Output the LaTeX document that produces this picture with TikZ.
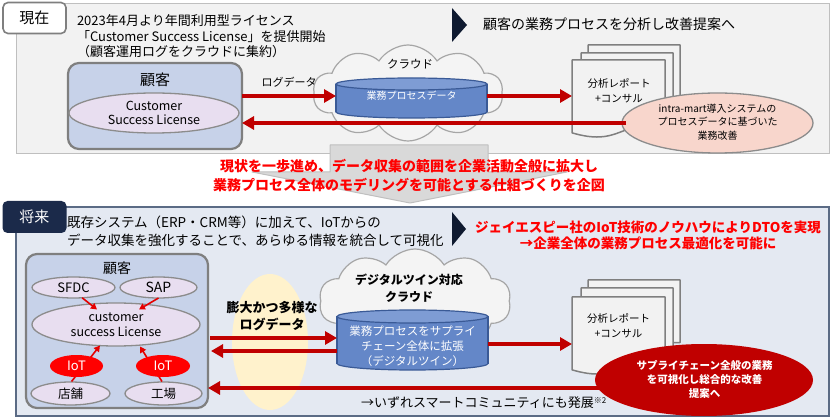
\documentclass[tikz,border=0pt]{standalone}
\usepackage{fontspec}
\setmainfont{Noto Sans CJK JP}
\usetikzlibrary{shapes.symbols,shapes.geometric,arrows.meta,calc}
\definecolor{pnlA}{HTML}{F2F2F2}
\definecolor{pnlAline}{HTML}{BFBFBF}
\definecolor{pnlB}{HTML}{E4E9F2}
\definecolor{pnlBline}{HTML}{5B6B85}
\definecolor{navy}{HTML}{1B2A4A}
\definecolor{tri}{HTML}{0F1A30}
\definecolor{boxblue}{HTML}{C7D2E9}
\definecolor{boxline}{HTML}{7F7F7F}
\definecolor{lav}{HTML}{E8DEF0}
\definecolor{ellline}{HTML}{8C8C8C}
\definecolor{darkred}{HTML}{C00000}
\definecolor{brightred}{HTML}{FF0000}
\definecolor{cylfill}{HTML}{6487C8}
\definecolor{cyltop}{HTML}{7E9CD4}
\definecolor{cylline}{HTML}{3A5A96}
\definecolor{pinkell}{HTML}{F8D6CC}
\definecolor{yell}{HTML}{FFF2CC}
\definecolor{cloudfill}{HTML}{F4F4F4}
\definecolor{cloudline}{HTML}{A6A6A6}
\definecolor{docline}{HTML}{7F7F7F}
\definecolor{docfill}{HTML}{F2F2F2}
\definecolor{grayarrow}{HTML}{D9D9D9}
\definecolor{grayarrowline}{HTML}{BFBFBF}
\newcommand\myfs[2]{\fontsize{#1pt}{#2pt}\selectfont}
% cylinder: cx, rx, ytop-center, ybottom-center, ry
\newcommand\mycyl[5]{%
  \filldraw[fill=cylfill,draw=cylline,line width=1.2pt] (#1,#4) ellipse [x radius=#2, y radius=#5];
  \fill[cylfill] (#1-#2,#3) rectangle (#1+#2,#4);
  \draw[cylline,line width=1.2pt] (#1-#2,#3) -- (#1-#2,#4) (#1+#2,#3) -- (#1+#2,#4);
  \filldraw[fill=cyltop,draw=cylline,line width=1.2pt] (#1,#3) ellipse [x radius=#2, y radius=#5];}
% document page: x0, ytop, w, H
\newcommand\mydoc[4]{%
  \filldraw[fill=docfill,draw=docline,line width=1.5pt,line join=round]
   (#1,#2+0.934*#4) -- (#1,#2) -- (#1+#3,#2) -- (#1+#3,#2+0.802*#4)
   .. controls (#1+0.5*#3,#2+0.802*#4) and (#1+0.5*#3,#2+1.1075*#4) .. (#1,#2+0.934*#4) -- cycle;}
\begin{document}
\begin{tikzpicture}[x=1pt,y=-1pt,
  every node/.style={inner sep=0pt,outer sep=0pt},
  panelA/.style={draw=pnlAline,fill=pnlA,line width=1pt},
  panelB/.style={draw=pnlBline,fill=pnlB,line width=1.2pt},
  cbox/.style={draw=boxline,fill=boxblue,line width=2.2pt,rounded corners=11pt},
  ell/.style={ellipse,draw=ellline,fill=lav,line width=1.3pt,align=center},
  redarr/.style={draw=darkred,line width=4.6pt,-{Triangle[length=12pt,width=13pt]}},
  smallarr/.style={draw=brightred!90!black,line width=1.6pt,-{Triangle[length=6pt,width=6.5pt]}},
  cloudst/.style={cloud,cloud puffs=10,cloud puff arc=115,aspect=2,draw=cloudline,fill=cloudfill,line width=1.2pt},
  ]
\useasboundingbox (0,0) rectangle (840,419);
% ---------------- top panel ----------------
\node[panelA,anchor=north west,minimum width=813pt,minimum height=150pt] (p1) at (16,4) {};
\node[draw=boxline,fill=white,line width=1.6pt,rounded corners=5pt,minimum width=63pt,minimum height=31pt,font=\myfs{15}{15}] (t1) at (34.5,18) {現在};
\node[anchor=west,align=left,font=\myfs{13}{15.5}] (intro) at (77,36.5) {2023年4月より年間利用型ライセンス\\「Customer Success License」を提供開始\\（顧客運用ログをクラウドに集約）};
\fill[tri] (452,8) -- (467,25) -- (452,42) -- cycle;
\node[anchor=west,font=\myfs{14}{14}] (goal1) at (483,24) {顧客の業務プロセスを分析し改善提案へ};
\node[cbox,anchor=north west,minimum width=174pt,minimum height=86pt] (k1) at (68,63) {};
\node[font=\myfs{15}{15}] (k1lab) at (155,80) {顧客};
\node[ell,minimum width=170pt,minimum height=40pt,font=\myfs{12.5}{14.5}] (csl1) at (154,113) {Customer\\Success License};
\node[cloudst,minimum width=190pt,minimum height=96pt] (cl1) at (408,93) {};
\node[font=\myfs{11.5}{11.5}] (cl1lab) at (410,64) {クラウド};
\mycyl{411.5}{75.5}{84}{112}{6}
\node[minimum width=151pt,minimum height=30pt,text=white,font=\myfs{10}{10}] (db1) at (411.5,96) {\raisebox{-4pt}{業務プロセスデータ}};
\mydoc{588}{45}{92}{78}
\mydoc{581}{53}{92}{78}
\mydoc{572}{60}{93}{78}
\node[minimum width=93pt,minimum height=72pt] (doc1) at (618.5,96) {};
\node[align=center,font=\myfs{10.5}{15}] (doc1t) at (619,90.5) {分析レポート\\+コンサル};
\node[font=\myfs{11}{11}] (loglab) at (289,82) {ログデータ};
\draw[redarr] (k1.east |- db1.west) -- (db1.west);
\draw[redarr] (db1.east) -- (doc1.west |- db1.east);
\node[ellipse,draw=ellline,fill=pinkell,line width=1.3pt,minimum width=191pt,minimum height=60pt] (im) at (717.5,123) {};
\node[align=center,font=\myfs{10}{13.5}] (imt) at (717.5,122) {intra-mart導入システムの\\プロセスデータに基づいた\\業務改善};
\draw[redarr] ($(im.west)+(4,0)$) -- (k1.east |- im.west);
% ---------------- bottom panel ----------------
\node[panelB,anchor=north west,minimum width=813pt,minimum height=209pt] (p2) at (16,207) {};
\node[fill=navy,rounded corners=5pt,minimum width=64pt,minimum height=32pt,text=white,font=\myfs{15}{15}] (t2) at (34.5,217) {将来};
% big gray arrow + message
\draw[fill=grayarrow,draw=grayarrowline,line width=1pt,line join=round] (330,145) -- (488,145) -- (488,172) -- (567,172) -- (410,203) -- (252,172) -- (330,172) -- cycle;
\node[align=center,text=brightred,font=\bfseries\myfs{14}{19}] (msg) at (409,175.5) {現状を一歩進め、データ収集の範囲を企業活動全般に拡大し\\業務プロセス全体のモデリングを可能とする仕組づくりを企図};
\node[anchor=west,align=left,font=\myfs{13.5}{18}] (intro2) at (67,231) {既存システム（ERP・CRM等）に加えて、IoTからの\\データ収集を強化することで、あらゆる情報を統合して可視化};
\fill[tri] (452,212) -- (466,229) -- (452,246) -- cycle;
\node[align=center,text=brightred,font=\bfseries\myfs{13.5}{16}] (goal2) at (648,235) {ジェイエスピー社のIoT技術のノウハウによりDTOを実現\\→企業全体の業務プロセス最適化を可能に};
% customer box
\node[cbox,anchor=north west,minimum width=182pt,minimum height=154pt] (k2) at (26,254) {};
\node[font=\myfs{14}{14}] (k2lab) at (117,268) {顧客};
\node[ell,minimum width=83pt,minimum height=21pt,font=\myfs{13}{13}] (sfdc) at (73.5,287.5) {SFDC};
\node[ell,minimum width=77pt,minimum height=21pt,font=\myfs{14}{14}] (sap) at (158.5,287.5) {SAP};
\node[ell,minimum width=168pt,minimum height=43pt,font=\myfs{12.5}{14.5}] (csl2) at (116,324.5) {customer\\success License};
\node[ell,minimum width=79pt,minimum height=23pt,font=\myfs{12.5}{12.5}] (tenpo) at (70.5,393.5) {店舗};
\node[ell,minimum width=77pt,minimum height=23pt,font=\myfs{12.5}{12.5}] (kojo) at (163.5,393.5) {工場};
\draw[smallarr] (sfdc.-50) -- ($(csl2.center)+(-19,-15)$);
\draw[smallarr] (sap.south) -- ($(csl2.center)+(23,-15)$);
\draw[smallarr] ($(tenpo.center)+(1,-12)$) -- ($(csl2.center)+(-16,21)$);
\draw[smallarr] ($(kojo.center)+(-1.5,-12)$) -- ($(csl2.center)+(24,22)$);
\node[ellipse,fill=brightred,minimum width=53pt,minimum height=22pt,text=white,font=\myfs{13}{13}] (iot1) at (76.5,366) {IoT};
\node[ellipse,fill=brightred,minimum width=54pt,minimum height=22pt,text=white,font=\myfs{13}{13}] (iot2) at (163,366) {IoT};
% big data
\node[ellipse,fill=yell,minimum width=76pt,minimum height=136pt] (yl) at (270,342) {};
\node[align=center,font=\bfseries\myfs{13}{17.5}] (ylt) at (272,316) {膨大かつ多様な\\ログデータ};
% cloud
\node[cloudst,minimum width=192pt,minimum height=104pt] (cl2) at (415,301) {};
\node[align=center,font=\bfseries\myfs{12}{17}] (cl2lab) at (409,288.5) {デジタルツイン対応\\クラウド};
\mycyl{412.5}{75.5}{316.5}{363.5}{6.5}
\node[minimum width=151pt,minimum height=60pt] (db2) at (412.5,340) {};
\node[align=center,text=white,font=\myfs{11.5}{15}] (db2t) at (412.5,346) {業務プロセスをサプライ\\チェーン全体に拡張\\（デジタルツイン）};
% docs
\mydoc{588}{280}{92}{78}
\mydoc{581}{288}{92}{78}
\mydoc{572}{297}{93}{78}
\node[minimum width=93pt,minimum height=73pt] (doc2) at (618.5,333.5) {};
\node[align=center,font=\myfs{10.5}{15}] (doc2t) at (618.5,325.5) {分析レポート\\+コンサル};
% arrows
\draw[redarr] ($(k2.east |- db2.west)+(2,-2)$) -- ($(db2.west)+(0,-2)$);
\draw[redarr] ($(db2.west)+(0,11)$) -- ($(k2.east |- db2.west)+(3,11)$);
\draw[redarr] ($(db2.east)+(0,4)$) -- ($(doc2.west |- db2.east)+(0,4)$);
\node[ellipse,fill=darkred,minimum width=218pt,minimum height=72pt] (re) at (704,380) {};
\draw[redarr] ($(re.west)+(10,8)$) -- ($(k2.east |- re.west)+(0,8)$);
\node[align=center,text=white,font=\bfseries\myfs{10.5}{14}] (ret) at (704.5,379) {サプライチェーン全般の業務\\を可視化し総合的な改善\\提案へ};
\node[anchor=west,font=\myfs{13}{13}] (note) at (361,403) {→いずれスマートコミュニティにも発展\raisebox{4pt}{\myfs{8}{8}※2}};
\end{tikzpicture}
\end{document}
